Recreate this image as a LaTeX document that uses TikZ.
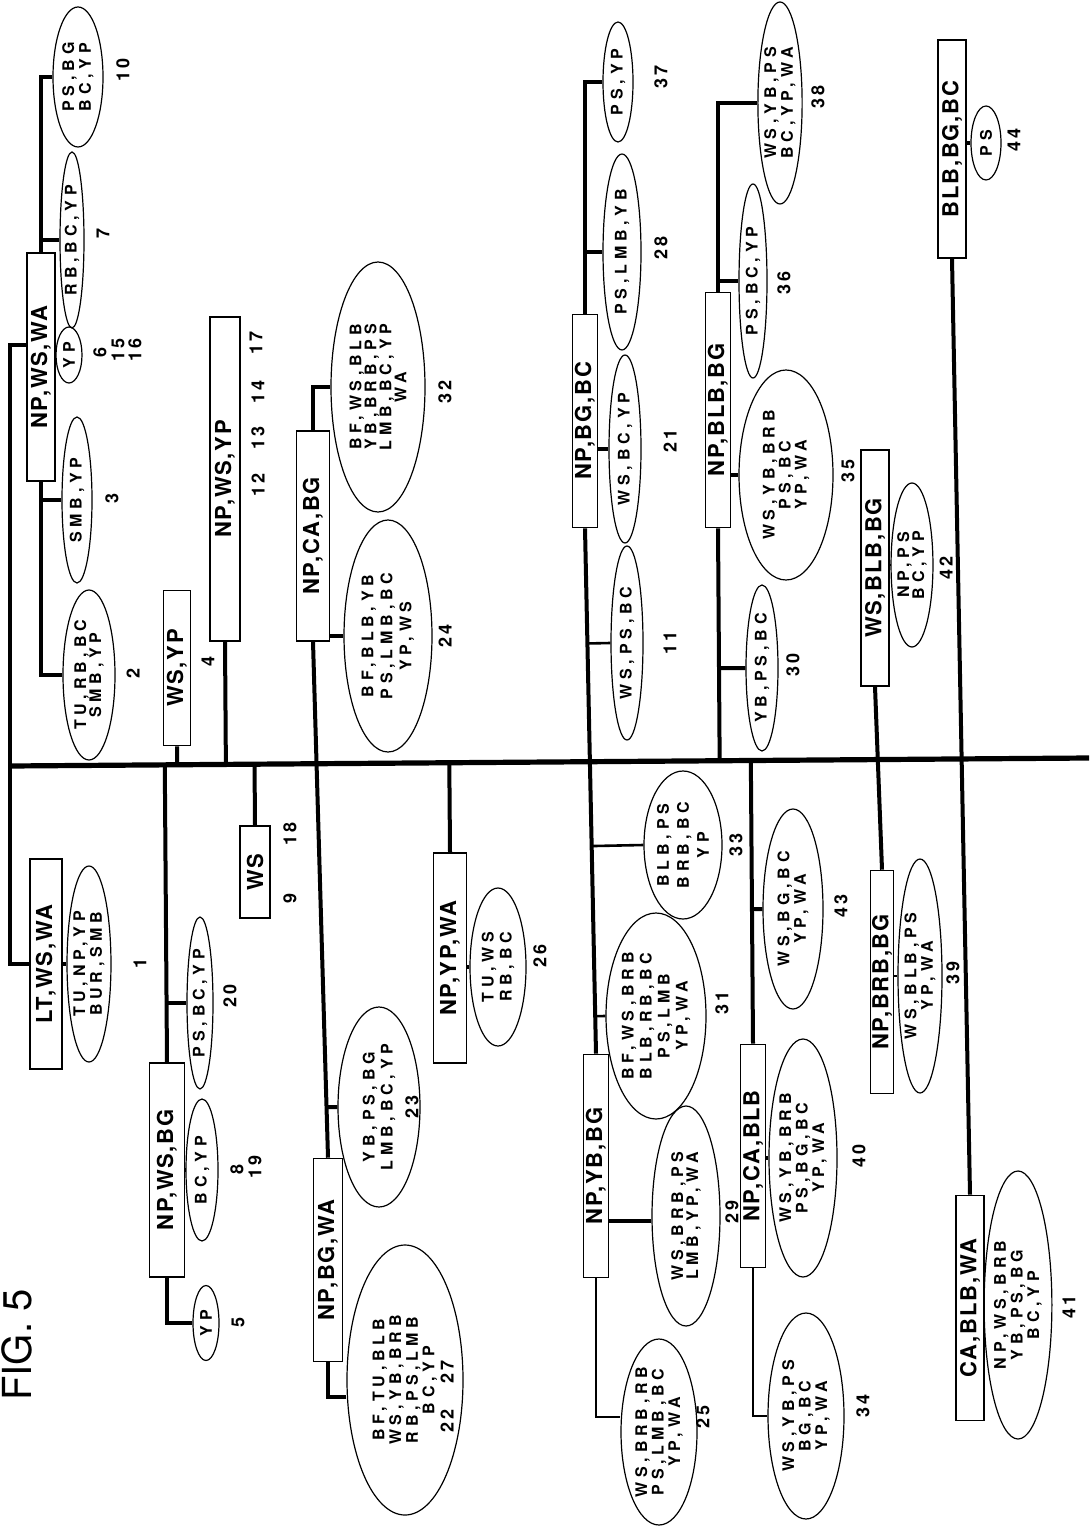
\documentclass[tikz,border=0pt]{standalone}
\usepackage{fontspec}
\setmainfont{TeX Gyre Heros}
\newfontfamily\bxf{TeX Gyre Heros}[LetterSpace=8]
\newfontfamily\elf{TeX Gyre Heros}[LetterSpace=30]
\newfontfamily\nmf{TeX Gyre Heros}[LetterSpace=15]
\usetikzlibrary{shapes.geometric,calc}
\begin{document}
\begin{tikzpicture}[x=0.5pt,y=-0.5pt,
  bx/.style 2 args={draw, rectangle, rotate=90, line width=0.8pt, inner sep=0pt,
    minimum width=#1*0.5pt, minimum height=#2*0.5pt,
    font=\bxf\bfseries\fontsize{11}{13}\selectfont},
  el/.style 2 args={draw, ellipse, rotate=90, line width=0.6pt, inner sep=0pt,
    minimum width=#1*0.5pt, minimum height=#2*0.5pt, align=center,
    font=\elf\bfseries\fontsize{8}{7}\selectfont},
  lsp/.style={font=\elf\bfseries\fontsize{8}{#1}\selectfont},
  num/.style={rotate=90, inner sep=0pt, font=\nmf\bfseries\fontsize{9}{10}\selectfont},
  figlabel/.style={rotate=90, inner sep=0pt, font=\fontsize{20}{22}\selectfont},
  br/.style={line width=2pt},
  thn/.style={line width=1.3pt},
  trk/.style={line width=2.6pt}
]
\fill[white] (0,0) rectangle (1089,1529);
\useasboundingbox (0,0) rectangle (1089,1529);

% ---------------- figure title ----------------
\node[figlabel] (fig) at (17,1345) {FIG. 5};

% ---------------- boxes ----------------
\node[bx={228}{28}] (b1) at (41,367) {NP,WS,WA};
\node[bx={210}{32}] (b2) at (46,964) {LT,WS,WA};
\node[bx={214}{35}] (b3) at (167,1170) {NP,WS,BG};
\node[bx={155}{27}] (b4) at (177,668) {WS,YP};
\node[bx={324}{30}] (b5) at (225,479) {NP,WS,YP};
\node[bx={210}{33}] (b6) at (313,536) {NP,CA,BG};
\node[bx={92}{30}]  (b7) at (255,872) {WS};
\node[bx={210}{33}] (b8) at (450,958) {NP,YP,WA};
\node[bx={203}{29}] (b9) at (328,1260) {NP,BG,WA};
\node[bx={213}{25}] (b11) at (585,421) {NP,BG,BC};
\node[bx={223}{25}] (b13) at (596,1166) {NP,YB,BG};
\node[bx={235}{25}] (b14) at (718,410) {NP,BLB,BG};
\node[bx={236}{28}] (b15) at (875,568) {WS,BLB,BG};
\node[bx={223}{23}] (b16) at (882,982) {NP,BRB,BG};
\node[bx={218}{28}] (b17) at (952,149) {BLB,BG,BC};
\node[bx={225}{28}] (b18) at (970,1308) {CA,BLB,WA};
\node[bx={223}{25}] (b19) at (753,1156) {NP,CA,BLB};

% ---------------- ellipses ----------------
\node[el={196}{42}] (e1) at (89,964) {TU,NP,YP\\BUR,SMB};
\node[el={170}{52}, lsp=7.5] (e2) at (89,675) {TU,RB,BC\\SMB,YP};
\node[el={166}{30}] (e3) at (77,500) {SMB,YP};
\node[el={56}{26}] (e6) at (69,355) {YP};
\node[el={176}{24}] (e7) at (72,240) {RB,BC,YP};
\node[el={140}{50}, lsp=6.5] (e10) at (78,77) {PS,BG\\BC,YP};
\node[el={172}{26}] (e20) at (200,1003) {PS,BC,YP};
\node[el={142}{32}] (e8) at (202,1170) {BC,YP};
\node[el={75}{26}] (e5) at (206,1323) {YP};
\node[el={250}{94}, lsp=7.5] (e32) at (378,387) {BF,WS,BLB\\YB,BRB,PS\\LMB,BC,YP\\WA};
\node[el={232}{88}, lsp=9.5] (e24) at (388,636) {BF,BLB,YB\\PS,LMB,BC\\YP,WS};
\node[el={200}{82}, lsp=9] (e23) at (379,1107) {YB,PS,BG\\LMB,BC,YP};
\node[el={270}{116}, lsp=6.5] (e22) at (405,1380) {BF,TU,BLB\\WS,YB,BRB\\RB,PS,LMB\\BC,YP};
\node[el={158}{56}, lsp=9] (e26) at (498,967) {TU,WS\\RB,BC};
\node[el={120}{30}] (e37) at (618,82) {PS,YP};
\node[el={196}{38}] (e28) at (622,252) {PS,LMB,YB};
\node[el={188}{32}] (e21) at (625,449) {WS,BC,YP};
\node[el={194}{32}] (e11) at (627,643) {WS,PS,BC};
\node[el={148}{78}, lsp=10] (e33) at (683,845) {BLB,PS\\BRB,BC\\YP};
\node[el={206}{100}, lsp=9] (e31) at (656,1016) {BF,WS,BRB\\BLB,RB,BC\\PS,LMB\\YP,WA};
\node[el={220}{68}, lsp=7.5] (e29) at (686,1216) {WS,BRB,PS\\LMB,YP,WA};
\node[el={186}{76}, lsp=6.5] (e25) at (659,1432) {WS,BRB,RB\\PS,LMB,BC\\YP,WA};
\node[el={202}{44}, lsp=6.5] (e38) at (780,103) {WS,YB,PS\\BC,YP,WA};
\node[el={194}{28}] (e36) at (753,281) {PS,BC,YP};
\node[el={210}{94}, lsp=8] (e35) at (786,475) {WS,YB,BRB\\PS,BC\\YP,WA};
\node[el={166}{32}] (e30) at (762,668) {YB,PS,BC};
\node[el={200}{60}, lsp=6.5] (e43) at (793,909) {WS,BG,BC\\YP,WA};
\node[el={238}{68}] (e40) at (803,1158) {WS,YB,BRB\\PS,BG,BC\\YP,WA};
\node[el={206}{76}] (e34) at (806,1416) {WS,YB,PS\\BG,BC\\YP,WA};
\node[el={164}{38}, lsp=7.5] (e42) at (912,565) {NP,PS\\BC,YP};
\node[el={234}{44}, lsp=6.5] (e39) at (920,976) {WS,BLB,PS\\YP,WA};
\node[el={74}{30}] (e44) at (986,143) {PS};
\node[el={268}{66}, lsp=6.5] (e41) at (1018,1305) {NP,WS,BRB\\YB,PS,BG\\BC,YP};

% ---------------- numbers ----------------
\node[num] (n1) at (140,963) {1};
\node[num] (n2) at (133,673) {2};
\node[num] (n3) at (112,498) {3};
\node[num] (n4) at (208,661) {4};
\node[num] (n5) at (238,1322) {5};
\node[num] (n6) at (100,352) {6};
\node[num] (n15) at (118,350) {15};
\node[num] (n16) at (135,350) {16};
\node[num] (n7) at (103,233) {7};
\node[num] (n10) at (123,70) {10};
\node[num] (n8) at (237,1169) {8};
\node[num] (n19) at (255,1167) {19};
\node[num] (n20) at (230,996) {20};
\node[num] (n9) at (290,898) {9};
\node[num] (n18) at (290,834) {18};
\node[num] (n12) at (258,485) {12};
\node[num] (n13) at (258,438) {13};
\node[num] (n14) at (258,392) {14};
\node[num] (n17) at (256,343) {17};
\node[num] (n32) at (445,392) {32};
\node[num] (n24) at (445,636) {24};
\node[num] (n23) at (412,1107) {23};
\node[num] (n22) at (447,1421) {22};
\node[num] (n27) at (447,1372) {27};
\node[num] (n26) at (540,956) {26};
\node[num] (n37) at (661,77) {37};
\node[num] (n28) at (661,248) {28};
\node[num] (n21) at (670,441) {21};
\node[num] (n11) at (670,643) {11};
\node[num] (n33) at (736,845) {33};
\node[num] (n31) at (722,1003) {31};
\node[num] (n29) at (732,1212) {29};
\node[num] (n25) at (703,1417) {25};
\node[num] (n38) at (818,97) {38};
\node[num] (n36) at (784,283) {36};
\node[num] (n35) at (848,471) {35};
\node[num] (n30) at (793,665) {30};
\node[num] (n43) at (841,906) {43};
\node[num] (n40) at (859,1156) {40};
\node[num] (n34) at (863,1406) {34};
\node[num] (n42) at (946,568) {42};
\node[num] (n39) at (953,973) {39};
\node[num] (n44) at (1014,140) {44};
\node[num] (n41) at (1069,1307) {41};

% ---------------- trunk ----------------
\coordinate (tL) at (10,766);
\coordinate (tR) at (1089,758);
\draw[trk] (tL) -- (tR);
\coordinate (j1) at (10,345);
\draw[br] (tL) -- (j1) -- (j1 -| b1.north);
\draw[br] (tL) |- (b2.north);

% group NP,WS,WA
\draw[br] (b1.east) |- (e10.north);
\draw[br] (b1.east |- e7.north) -- (e7.north);
\draw[br] (b1.west) |- (e2.north);
\draw[br] (b1.west |- e3.north) -- (e3.north);
\draw[br] (b1.south |- e6.north) -- (e6.north);
\draw[br] (b2.south) -- (e1.north);

% WS,YP and NP,WS,YP
\draw[br] (b4.west) -- ($(tL)!(b4.west)!(tR)$);
\draw[br] (b5.west) -- ($(tL)!(b5.west)!(tR)$);

% NP,CA,BG -- NP,BG,WA
\draw[br] (b6.west) -- (b9.east);
\draw[br] (b6.east) |- (e32.north);
\draw[br] (b6.south |- e24.north) -- (e24.north);
\draw[br] ($(b6.west)!(e23.north)!(b9.east)$) -- (e23.north);
\draw[br] (b9.west) |- ($(e22.north)+(0,17)$);

% WS
\draw[br] ($(tL)!(b7.east)!(tR)$) -- (b7.east);

% NP,WS,BG
\coordinate (t3) at ($(tL)!(b3.east)!(tR)$);
\draw[br] (t3) -- (b3.east);
\draw[br] (t3 |- e20.north) -- (e20.north);
\draw[br] (b3.south) -- (e8.north);
\draw[br] (b3.west) |- (e5.north);

% NP,YP,WA
\draw[br] ($(tL)!(b8.east)!(tR)$) -- (b8.east);
\draw[br] (b8.south |- e26.north) -- (e26.north);

% NP,BG,BC -- NP,YB,BG
\draw[br] (b11.west) -- (b13.east);
\draw[br] (b11.east) |- (e37.north);
\draw[br] (b11.east |- e28.north) -- (e28.north);
\draw[br] (b11.south |- e21.north) -- (e21.north);
\draw[thn] ($(b11.west)!(e11.north)!(b13.east)$) -- (e11.north);
\draw[thn] ($(b11.west)!(e33.north)!(b13.east)$) -- (e33.north);
\draw[thn] ($(b11.west)!(e31.north)!(b13.east)$) -- (e31.north);
\draw[br] ($(b13.south |- e29.north)+(0,5)$) -- ($(e29.north)+(0,5)$);
\draw[thn] (b13.west) |- ($(e25.north)+(0,-15)$);

% NP,BLB,BG
\coordinate (t14) at ($(tL)!(b14.west)!(tR)$);
\draw[br] (b14.west) -- (t14);
\draw[br] (b14.east) |- (e38.north);
\draw[br] (b14.east |- e36.north) -- (e36.north);
\draw[br] (b14.south |- e35.north) -- (e35.north);
\draw[br] ($(b14.west)!(e30.north)!(t14)$) -- (e30.north);

% NP,CA,BLB
\coordinate (t19) at ($(tL)!(b19.east)!(tR)$);
\draw[br] (t19) -- (b19.east);
\draw[br] ($(t19)!(e43.north)!(b19.east)$) -- (e43.north);
\draw[br] (b19.south |- e40.north) -- (e40.north);
\draw[thn] (b19.west) |- (e34.north);

% WS,BLB,BG -- NP,BRB,BG
\draw[br] (b15.west) -- (b16.east);
\draw[thn] (b15.south |- e42.north) -- (e42.north);
\draw[thn] (b16.south |- e39.north) -- (e39.north);

% BLB,BG,BC -- CA,BLB,WA
\draw[br] (b17.west) -- (b18.east);
\draw[br] (b17.south |- e44.north) -- (e44.north);
\draw[thn] (b18.south |- e41.north) -- (e41.north);
\end{tikzpicture}
\end{document}
